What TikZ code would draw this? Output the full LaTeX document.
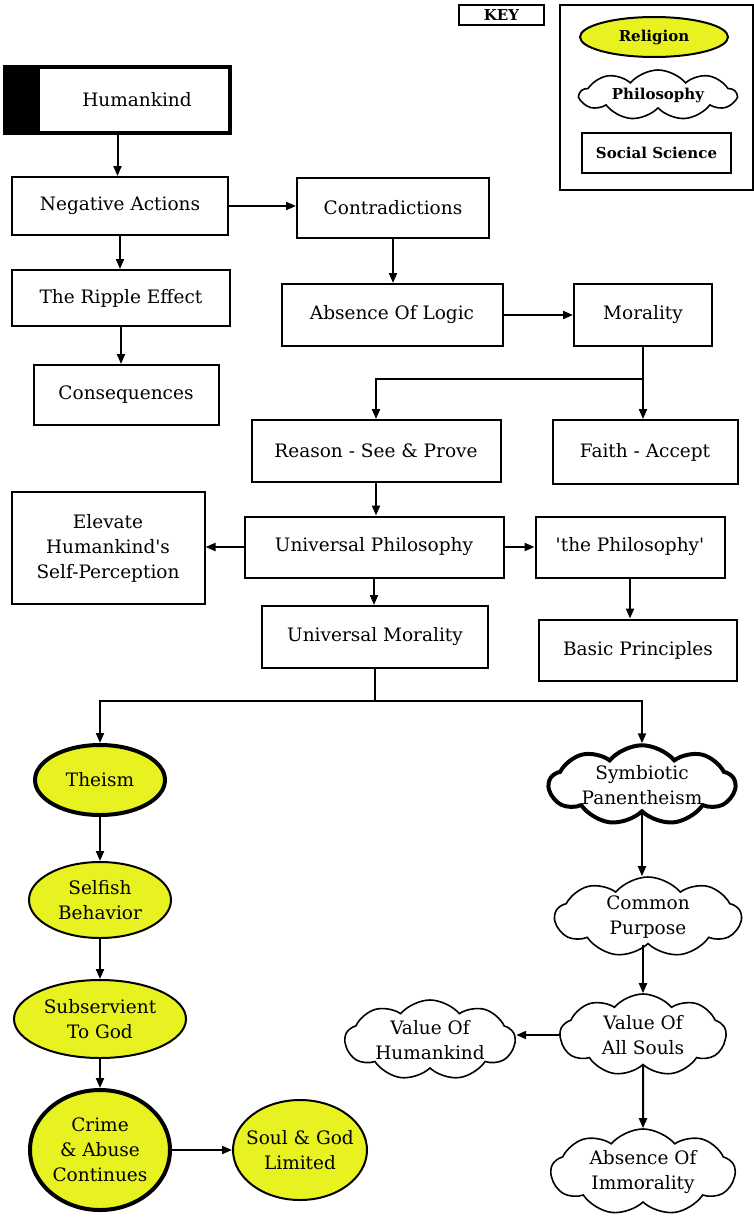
\documentclass[tikz,border=0pt]{standalone}
\usepackage{fontspec}
\setmainfont{DejaVu Serif}[Ligatures=TeXOff]
\usetikzlibrary{shapes.geometric,shapes.symbols,arrows.meta}
\definecolor{relyellow}{RGB}{232,242,32}
\begin{document}
\begin{tikzpicture}[x=1pt,y=-1pt,
  txt/.style={font=\fontsize{18.5}{25}\selectfont, align=center},
  box/.style={txt, draw, line width=2pt, fill=white, inner sep=0pt},
  rel/.style={txt, ellipse, draw, line width=2pt, fill=relyellow, inner sep=0pt},
  phil/.style={txt, cloud, cloud puffs=9, cloud puff arc=100, cloud ignores aspect, draw, line width=1.6pt, fill=white, inner sep=0pt},
  keytxt/.style={font=\fontsize{15}{18}\selectfont\bfseries},
  arr/.style={line width=2pt, -{Triangle[length=10pt,width=8pt]}},
  conn/.style={line width=2pt}]
\useasboundingbox (0,0) rectangle (754,1229);
\fill[white] (0,0) rectangle (754,1229);

% key
\node[draw, line width=1.2pt, minimum width=85pt, minimum height=20pt, inner sep=0pt, keytxt] (keylabel) at (501.5,15) {KEY};
\node[draw, line width=1.2pt, minimum width=193pt, minimum height=185pt, inner sep=0pt] (keyframe) at (656.5,97.5) {};
\node[rel, keytxt, minimum width=148pt, minimum height=40pt] (kreligion) at (654,37) {Religion};
\node[phil, keytxt, minimum width=156pt, minimum height=50pt] (kphil) at (658,95) {Philosophy};
\node[box, keytxt, minimum width=149pt, minimum height=40pt] (ksocial) at (656.5,153) {Social Science};

% boxes
\node[box, line width=3.2pt, minimum width=225pt, minimum height=66pt] (hk) at (117.5,100) {};
\fill (5,67) rectangle (40,133);
\node[txt] (hkt) at (137,100) {Humankind};
\node[box, minimum width=216pt, minimum height=58pt] (neg) at (120,206) {Negative Actions};
\node[box, minimum width=192pt, minimum height=60pt] (contra) at (393,208) {Contradictions};
\node[box, minimum width=218pt, minimum height=56pt] (ripple) at (121,298) {The Ripple Effect};
\node[box, minimum width=221pt, minimum height=62pt] (absence) at (392,315) {Absence Of Logic};
\node[box, minimum width=138pt, minimum height=62pt] (morality) at (643,315) {Morality};
\node[box, minimum width=185pt, minimum height=60pt] (conseq) at (126,395) {Consequences};
\node[box, minimum width=249pt, minimum height=62pt] (reason) at (376,451) {Reason - See \& Prove};
\node[box, minimum width=185pt, minimum height=64pt] (faith) at (645,452) {Faith - Accept};
\node[box, minimum width=193pt, minimum height=112pt] (elevate) at (108,548) {Elevate\\Humankind's\\Self-Perception};
\node[box, minimum width=259pt, minimum height=61pt] (uphil) at (374,547) {Universal Philosophy};
\node[box, minimum width=189pt, minimum height=61pt] (thephil) at (630,547) {'the Philosophy'};
\node[box, minimum width=226pt, minimum height=62pt] (umor) at (375,637) {Universal Morality};
\node[box, minimum width=198pt, minimum height=61pt] (basic) at (638,650) {Basic Principles};

% religion ellipses
\node[rel, line width=4pt, minimum width=130pt, minimum height=70pt] (theism) at (100,780) {Theism};
\node[rel, minimum width=142pt, minimum height=76pt] (selfish) at (100,900) {Selfish\\Behavior};
\node[rel, minimum width=172pt, minimum height=78pt] (subserv) at (100,1019) {Subservient\\To God};
\node[rel, line width=4pt, inner sep=-4pt, minimum width=140pt, minimum height=120pt] (crime) at (100,1150) {Crime\\\& Abuse\\Continues};
\node[rel, inner sep=-8pt, minimum width=134pt, minimum height=100pt] (soul) at (300,1150) {Soul \& God\\Limited};

% philosophy clouds
\node[phil, line width=4pt, minimum width=186pt, minimum height=72pt] (symb) at (642,785) {Symbiotic\\Panentheism};
\node[phil, minimum width=186pt, minimum height=80pt] (common) at (648,917) {Common\\Purpose};
\node[phil, minimum width=166pt, minimum height=82pt] (valall) at (643,1035) {Value Of\\All Souls};
\node[phil, minimum width=170pt, minimum height=80pt] (valhum) at (430,1040) {Value Of\\Humankind};
\node[phil, minimum width=184pt, minimum height=86pt] (absimm) at (643,1172) {Absence Of\\Immorality};

% connectors
\draw[arr] (hk.south) -- (hk.south |- neg.north);
\draw[arr] (neg.east) -- (neg.east -| contra.west);
\draw[arr] (neg.south) -- (neg.south |- ripple.north);
\draw[arr] (ripple.south) -- (ripple.south |- conseq.north);
\draw[arr] (contra.south) -- (contra.south |- absence.north);
\draw[arr] (absence.east) -- (morality.west);
\draw[conn] (morality.south) -- ++(0,32) coordinate (mb);
\draw[arr] (mb) -| (reason.north);
\draw[arr] (mb) -- (mb |- faith.north);
\draw[arr] (reason.south) -- (reason.south |- uphil.north);
\draw[arr] (uphil.west) -- (uphil.west -| elevate.east);
\draw[arr] (uphil.east) -- (uphil.east -| thephil.west);
\draw[arr] (uphil.south) -- (uphil.south |- umor.north);
\draw[arr] (thephil.south) -- (thephil.south |- basic.north);
\draw[conn] (umor.south) -- ++(0,32) coordinate (ub);
\draw[arr] (ub) -| (theism.north);
\draw[arr] (ub) -| (symb.north);
\draw[arr] (theism.south) -- (selfish.north);
\draw[arr] (selfish.south) -- (subserv.north);
\draw[arr] (subserv.south) -- (crime.north);
\draw[arr] (crime.east) -- (soul.west);
\draw[arr] (symb.south) -- (symb.south |- common.north);
\draw[arr] (common.south -| valall) -- (valall.north);
\draw[arr] (valall.west) -- (valall.west -| valhum.east);
\draw[arr] (valall.south) -- (absimm.north);
\end{tikzpicture}
\end{document}
